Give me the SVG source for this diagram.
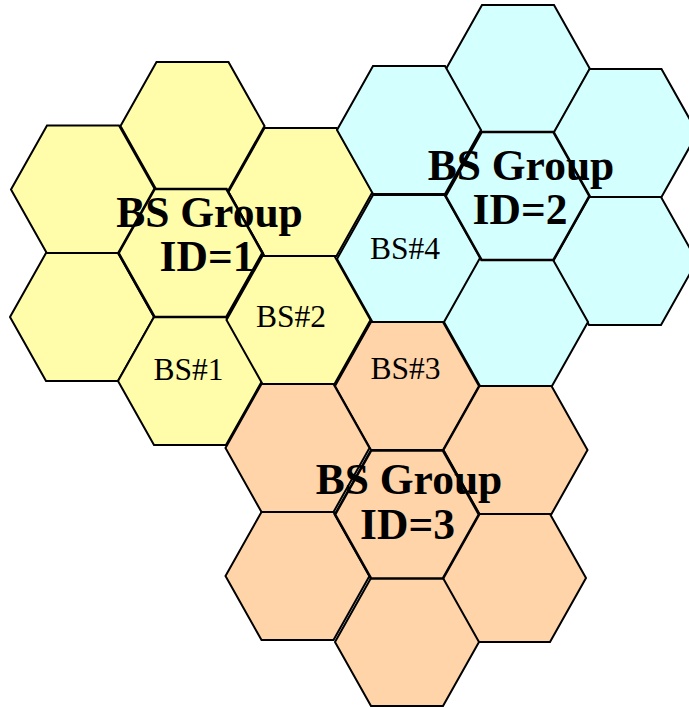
<svg xmlns="http://www.w3.org/2000/svg" xmlns:xlink="http://www.w3.org/1999/xlink" width="689" height="708" viewBox="0 0 689 708">
<style>
.c{stroke:#000;stroke-width:2;stroke-linejoin:miter}
.ctr{stroke-width:2.6}
.y{fill:#FFFCAA}
.b{fill:#D4FFFF}
.o{fill:#FFD4A8}
.gl{font-family:"Liberation Serif","Times New Roman",serif;font-weight:bold;font-size:43.5px;text-anchor:middle;fill:#000}
.bs{font-family:"Liberation Serif","Times New Roman",serif;font-size:31.5px;text-anchor:middle;fill:#000}
</style>
<defs>
<polygon id="hex" points="-72,0 -36,-64 36,-64 72,0 36,64 -36,64"/>
</defs>
<rect width="689" height="708" fill="#fff"/>
<g id="group1">
<g id="g1-top"><use xlink:href="#hex" href="#hex" class="c y" x="192.5" y="126"/></g>
<g id="g1-ul"><use xlink:href="#hex" href="#hex" class="c y" x="83" y="189.5"/></g>
<g id="g1-ll"><use xlink:href="#hex" href="#hex" class="c y" x="82" y="317"/></g>
<g id="g1-ur"><use xlink:href="#hex" href="#hex" class="c y" x="300.5" y="192"/></g>
<g id="bs1"><use xlink:href="#hex" href="#hex" class="c y" x="190" y="381"/></g>
<g id="bs2"><use xlink:href="#hex" href="#hex" class="c y" x="298.5" y="320"/></g>
<g id="g1-center"><use xlink:href="#hex" href="#hex" class="c ctr y" x="190.5" y="253"/></g>
</g>
<g id="group2">
<g id="g2-top"><use xlink:href="#hex" href="#hex" class="c b" x="518" y="69"/></g>
<g id="g2-ul"><use xlink:href="#hex" href="#hex" class="c b" x="409" y="130"/></g>
<g id="g2-ur"><use xlink:href="#hex" href="#hex" class="c b" x="625.5" y="133"/></g>
<g id="g2-lr"><use xlink:href="#hex" href="#hex" class="c b" x="625" y="261"/></g>
<g id="bs4"><use xlink:href="#hex" href="#hex" class="c b" x="409" y="259"/></g>
<g id="g2-bottom"><use xlink:href="#hex" href="#hex" class="c b" x="516" y="322"/></g>
<g id="g2-center"><use xlink:href="#hex" href="#hex" class="c ctr b" x="517.5" y="196"/></g>
</g>
<g id="group3">
<g id="bs3"><use xlink:href="#hex" href="#hex" class="c o" x="407" y="386"/></g>
<g id="g3-ul"><use xlink:href="#hex" href="#hex" class="c o" x="297.5" y="448"/></g>
<g id="g3-ur"><use xlink:href="#hex" href="#hex" class="c o" x="515.5" y="450"/></g>
<g id="g3-lr"><use xlink:href="#hex" href="#hex" class="c o" x="514" y="578"/></g>
<g id="g3-ll"><use xlink:href="#hex" href="#hex" class="c o" x="297.5" y="576"/></g>
<g id="g3-bottom"><use xlink:href="#hex" href="#hex" class="c o" x="407" y="642"/></g>
<g id="g3-center"><use xlink:href="#hex" href="#hex" class="c ctr o" x="407" y="514.5"/></g>
</g>
<g id="connectors"/>
<g id="labels">
<g id="label-bs1"><text class="bs" x="188.5" y="380">BS#1</text></g>
<g id="label-bs2"><text class="bs" x="291" y="327">BS#2</text></g>
<g id="label-bs3"><text class="bs" x="405.5" y="379">BS#3</text></g>
<g id="label-bs4"><text class="bs" x="405" y="259">BS#4</text></g>
<g id="label-g1"><text class="gl"><tspan x="209.5" y="226.5">BS Group</tspan><tspan x="207" y="271">ID=1</tspan></text></g>
<g id="label-g2"><text class="gl"><tspan x="521" y="179.5">BS Group</tspan><tspan x="520" y="224">ID=2</tspan></text></g>
<g id="label-g3"><text class="gl"><tspan x="409" y="494">BS Group</tspan><tspan x="407.5" y="538.5">ID=3</tspan></text></g>
</g>
</svg>
